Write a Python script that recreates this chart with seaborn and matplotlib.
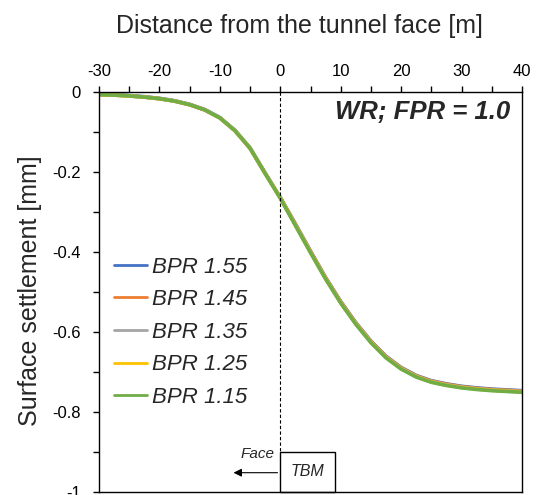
import matplotlib
matplotlib.use("Agg")
import matplotlib.pyplot as plt
import seaborn as sns
import pandas as pd
from matplotlib.ticker import MultipleLocator, FuncFormatter
from matplotlib.patches import Rectangle
from matplotlib.lines import Line2D

distance = [-30, -27.5, -25, -22.5, -20, -17.5, -15, -12.5, -10, -7.5, -5, -2.5, 0,
            2.5, 5, 7.5, 10, 12.5, 15, 17.5, 20, 22.5, 25, 27.5, 30, 32.5, 35, 37.5, 40]

bpr_155 = [-0.007, -0.008, -0.010, -0.013, -0.017, -0.023, -0.032, -0.045, -0.065, -0.097,
           -0.141, -0.204, -0.265, -0.331, -0.399, -0.465, -0.525, -0.578, -0.624, -0.662,
           -0.690, -0.710, -0.723, -0.731, -0.737, -0.741, -0.744, -0.746, -0.748]
bpr_145 = [-0.008, -0.009, -0.011, -0.014, -0.018, -0.024, -0.033, -0.046, -0.066, -0.098,
           -0.142, -0.205, -0.265, -0.332, -0.400, -0.466, -0.526, -0.579, -0.625, -0.663,
           -0.691, -0.711, -0.724, -0.732, -0.738, -0.742, -0.745, -0.747, -0.749]
bpr_135 = [-0.008, -0.009, -0.011, -0.014, -0.018, -0.024, -0.033, -0.046, -0.066, -0.098,
           -0.142, -0.205, -0.266, -0.333, -0.401, -0.467, -0.527, -0.580, -0.626, -0.664,
           -0.692, -0.712, -0.725, -0.733, -0.739, -0.743, -0.746, -0.748, -0.750]
bpr_125 = [-0.008, -0.009, -0.011, -0.014, -0.018, -0.024, -0.033, -0.046, -0.066, -0.098,
           -0.142, -0.205, -0.266, -0.334, -0.402, -0.468, -0.528, -0.581, -0.627, -0.665,
           -0.693, -0.713, -0.726, -0.734, -0.740, -0.744, -0.747, -0.749, -0.751]
bpr_115 = [-0.008, -0.009, -0.011, -0.014, -0.018, -0.024, -0.033, -0.046, -0.066, -0.098,
           -0.142, -0.205, -0.267, -0.335, -0.403, -0.469, -0.529, -0.582, -0.628, -0.666,
           -0.694, -0.714, -0.727, -0.735, -0.741, -0.745, -0.748, -0.750, -0.752]

series_names = ["BPR 1.55", "BPR 1.45", "BPR 1.35", "BPR 1.25", "BPR 1.15"]
series_values = [bpr_155, bpr_145, bpr_135, bpr_125, bpr_115]
colors = ["#4472C4", "#ED7D31", "#A5A5A5", "#FFC000", "#70AD47"]

x_ticks = [-30, -20, -10, 0, 10, 20, 30, 40]
y_ticks = [0, -0.2, -0.4, -0.6, -0.8, -1.0]

rows = []
for name, vals in zip(series_names, series_values):
    for d, v in zip(distance, vals):
        rows.append({"Distance": d, "Settlement": v, "Series": name})
df = pd.DataFrame(rows)

sns.set_style("white")
plt.rcParams["font.family"] = ["Liberation Sans", "DejaVu Sans"]
plt.rcParams["axes.unicode_minus"] = False

fig = plt.figure(figsize=(5.42, 4.95), dpi=100)
ax = fig.add_axes([99 / 542, 1 - 491.5 / 495, 423 / 542, 400 / 495])

sns.lineplot(data=df, x="Distance", y="Settlement", hue="Series",
             hue_order=series_names, palette=colors, linewidth=2.6,
             estimator=None, sort=False, ax=ax, legend=False)

ax.set_xlim(-30, 40)
ax.set_ylim(-1, 0)
ax.xaxis.tick_top()
ax.xaxis.set_label_position("top")
ax.set_xticks(x_ticks)
ax.set_yticks(y_ticks)
ax.xaxis.set_minor_locator(MultipleLocator(5))
ax.yaxis.set_minor_locator(MultipleLocator(0.1))
fmt = FuncFormatter(lambda v, p: "{:g}".format(round(v, 2)))
ax.xaxis.set_major_formatter(fmt)
ax.yaxis.set_major_formatter(fmt)
ax.tick_params(axis="x", which="both", direction="out", length=4, width=1,
               labelsize=12, pad=5, top=True, bottom=False, colors="black")
ax.tick_params(axis="y", which="both", direction="out", length=4, width=1,
               labelsize=12, pad=9, left=True, right=False, colors="black")

for s in ax.spines.values():
    s.set_visible(True)
    s.set_color("black")
    s.set_linewidth(1.0)

ax.set_xlabel("Distance from the tunnel face [m]", fontsize=18)
ax.xaxis.set_label_coords((299 - 99) / 423, (491.5 - 26) / 400)
ax.xaxis.label.set_va("center")
ax.set_ylabel("Surface settlement [mm]", fontsize=18)
ax.yaxis.set_label_coords((30 - 99) / 423, (491.5 - 291) / 400)
ax.yaxis.label.set_va("center")

# tunnel face line
ax.plot([0, 0], [0, -0.9], color="black", linewidth=0.8, linestyle=(0, (3, 2)))
ax.add_patch(Rectangle((0, -1.0), 9.0, 0.1, fill=False, edgecolor="black",
                       linewidth=1.0, clip_on=False))
ax.text(4.5, -0.95, "TBM", fontsize=11.5, style="italic", ha="center", va="center")
ax.annotate("", xy=(-8.2, -0.953), xytext=(0, -0.953),
            arrowprops=dict(arrowstyle="-|>", color="black", lw=0.8,
                            mutation_scale=12))
ax.text(-1.0, -0.905, "Face", fontsize=11, style="italic", ha="right", va="center")

ax.text(38.0, -0.052, "WR; FPR = 1.0", fontsize=18.5, style="italic",
        fontweight="bold", ha="right", va="center")

handles = [Line2D([], [], color=c, linewidth=2.0) for c in colors]
leg = ax.legend(handles, series_names, loc="upper left",
                bbox_to_anchor=(0.035, 0.587), frameon=False, fontsize=16,
                handlelength=1.5, handletextpad=0.2, labelspacing=0.52,
                borderpad=0, borderaxespad=0)
for t in leg.get_texts():
    t.set_style("italic")

fig.savefig("out.png", dpi=100)
